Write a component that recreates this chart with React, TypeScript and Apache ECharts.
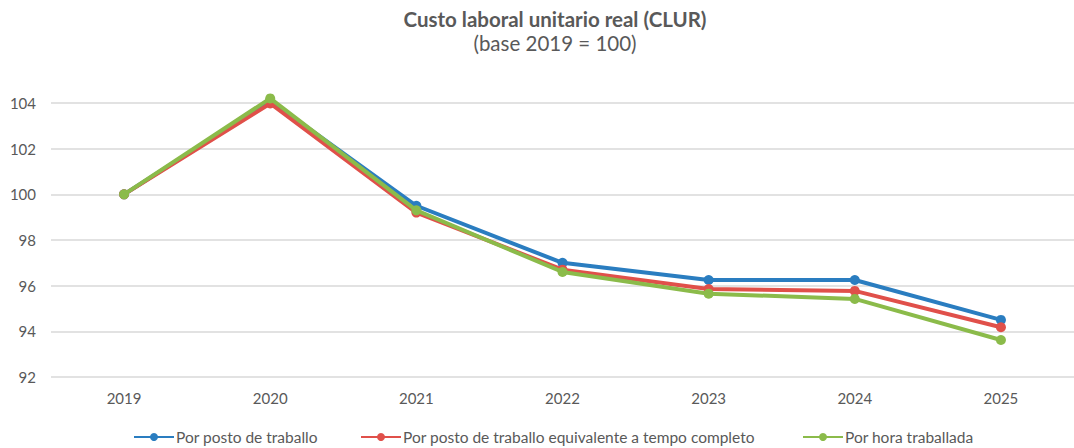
import React, { useEffect, useRef } from "react";
import * as echarts from "echarts";

const years = ["2019", "2020", "2021", "2022", "2023", "2024", "2025"];
const porPosto = [100, 104.1, 99.5, 97.0, 96.25, 96.25, 94.5];
const porPostoETC = [100, 103.98, 99.2, 96.7, 95.85, 95.77, 94.18];
const porHora = [100, 104.2, 99.3, 96.6, 95.65, 95.42, 93.62];
const yTicks = [92, 94, 96, 98, 100, 102, 104];
const names = [
  "Por posto de traballo",
  "Por posto de traballo equivalente a tempo completo",
  "Por hora traballada",
];

const FONT = "Lato, 'Open Sans', sans-serif";
const TXT = "#595959";

export default function App() {
  const ref = useRef<HTMLDivElement>(null);
  useEffect(() => {
    if (!ref.current) return;
    const chart = echarts.init(ref.current, null, { renderer: "svg" });
    const mk = (name: string, data: number[], color: string, z: number) => ({
      name,
      type: "line",
      data,
      z,
      clip: false,
      symbol: "circle",
      symbolSize: 10,
      color,
      lineStyle: { width: 4, color },
      itemStyle: { color },
    });
    const lg = (name: string, left: number) => ({
      bottom: 3,
      left,
      itemWidth: 40,
      itemHeight: 10,
      padding: 0,
      textStyle: { color: TXT, fontSize: 15.5, fontFamily: FONT, padding: [0, 0, 0, -3] },
      data: [name],
    });
    chart.setOption({
      animation: false,
      textStyle: { fontFamily: FONT },
      title: {
        text: "Custo laboral unitario real (CLUR)",
        subtext: "(base 2019 = 100)",
        left: 550,
        textAlign: "center",
        top: 3,
        itemGap: 3,
        textStyle: { fontFamily: FONT, fontSize: 20.5, fontWeight: "bold", color: TXT },
        subtextStyle: { fontFamily: FONT, fontSize: 20.5, color: TXT },
      },
      grid: { left: 51, top: 103, width: 1033, height: 274, containLabel: false },
      xAxis: {
        type: "category",
        data: years,
        boundaryGap: true,
        axisLine: { show: false },
        axisTick: { show: false },
        axisLabel: { color: TXT, fontSize: 15, margin: 13, fontFamily: FONT },
      },
      yAxis: {
        type: "value",
        min: yTicks[0],
        max: yTicks[yTicks.length - 1],
        interval: 2,
        axisLine: { show: false },
        axisTick: { show: false },
        axisLabel: { color: TXT, fontSize: 15, margin: 15, fontFamily: FONT },
        splitLine: { lineStyle: { color: "#d9d9d9", width: 1.5 } },
      },
      legend: [lg(names[0], 133), lg(names[1], 360), lg(names[2], 802)],
      series: [
        mk(names[0], porPosto, "#2a7dc0", 2),
        mk(names[1], porPostoETC, "#e0504a", 3),
        mk(names[2], porHora, "#8bbb4a", 4),
      ],
    });
    return () => chart.dispose();
  }, []);
  return (
    <div
      ref={ref}
      style={{ position: "fixed", left: 0, top: 0, width: 1074, height: 448, background: "#fff" }}
    />
  );
}
